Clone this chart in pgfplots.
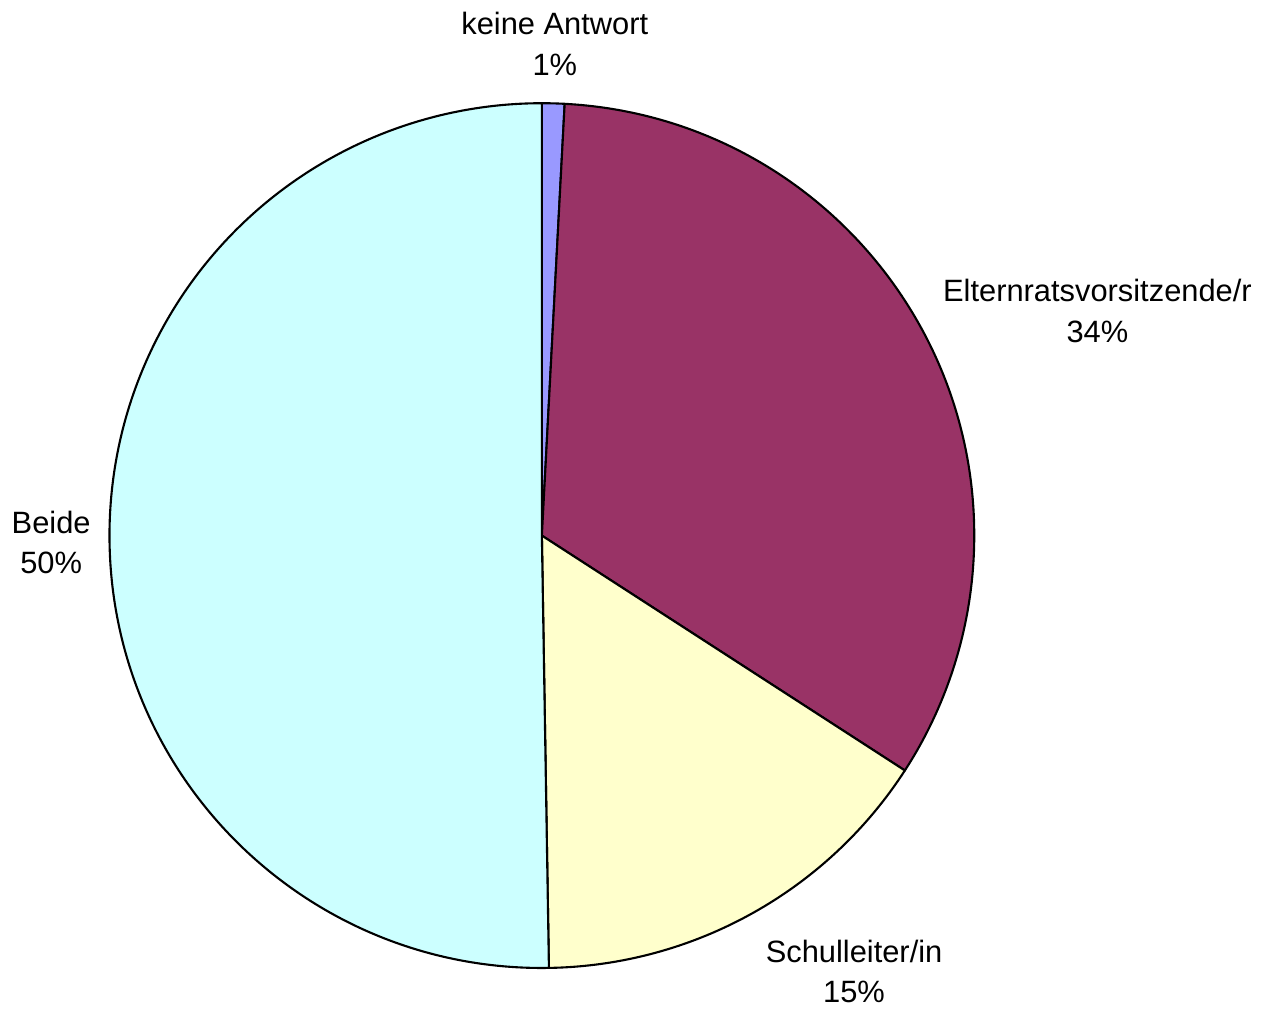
\documentclass[border=0pt]{standalone}
\usepackage{pgfplots}
\pgfplotsset{compat=1.18}
\usepackage{pgfplotstable}
\usepackage{fontspec}
\setmainfont{Liberation Sans}
\definecolor{col0}{HTML}{9999FF}
\definecolor{col1}{HTML}{993366}
\definecolor{col2}{HTML}{FFFFCC}
\definecolor{col3}{HTML}{CCFFFF}
\pgfplotstableread{
label value
keine 0.84
Elternrat 33.3
Schulleiter 15.6
Beide 50.26
}\piedata
\def\cum{0}
\pgfplotsforeachungrouped \i in {0,1,2,3}{%
  \pgfplotstablegetelem{\i}{value}\of\piedata
  \pgfmathsetmacro\sa{90-3.6*\cum}%
  \pgfmathsetmacro\cum{\cum+\pgfplotsretval}%
  \pgfmathsetmacro\ea{90-3.6*\cum}%
  \expandafter\xdef\csname sa\i\endcsname{\sa}%
  \expandafter\xdef\csname ea\i\endcsname{\ea}%
}
\begin{document}
\begin{tikzpicture}
\begin{axis}[hide axis, scale only axis, width=12.67cm, height=10.12cm,
  xmin=0, xmax=1267, ymin=0, ymax=1012, clip=false]
\pgfplotsinvokeforeach{0,...,3}{
  \fill[fill=col#1, draw=black, line width=0.6pt, line join=round]
    (axis cs:540,475) -- +(\csname sa#1\endcsname:4.335cm)
    arc[start angle=\csname sa#1\endcsname, end angle=\csname ea#1\endcsname, radius=4.335cm] -- cycle;
}
\path (rel axis cs:0,0) (rel axis cs:1,1);
\begin{scope}[every node/.style={align=center, font=\fontsize{8.8}{11.6}\selectfont}]
\node at (axis cs:553,968) {keine Antwort\\1\%};
\node at (axis cs:1097,700) {Elternratsvorsitzende/r\\34\%};
\node at (axis cs:48,468) {Beide\\50\%};
\node at (axis cs:853,38) {Schulleiter/in\\15\%};
\end{scope}
\end{axis}
\end{tikzpicture}
\end{document}
